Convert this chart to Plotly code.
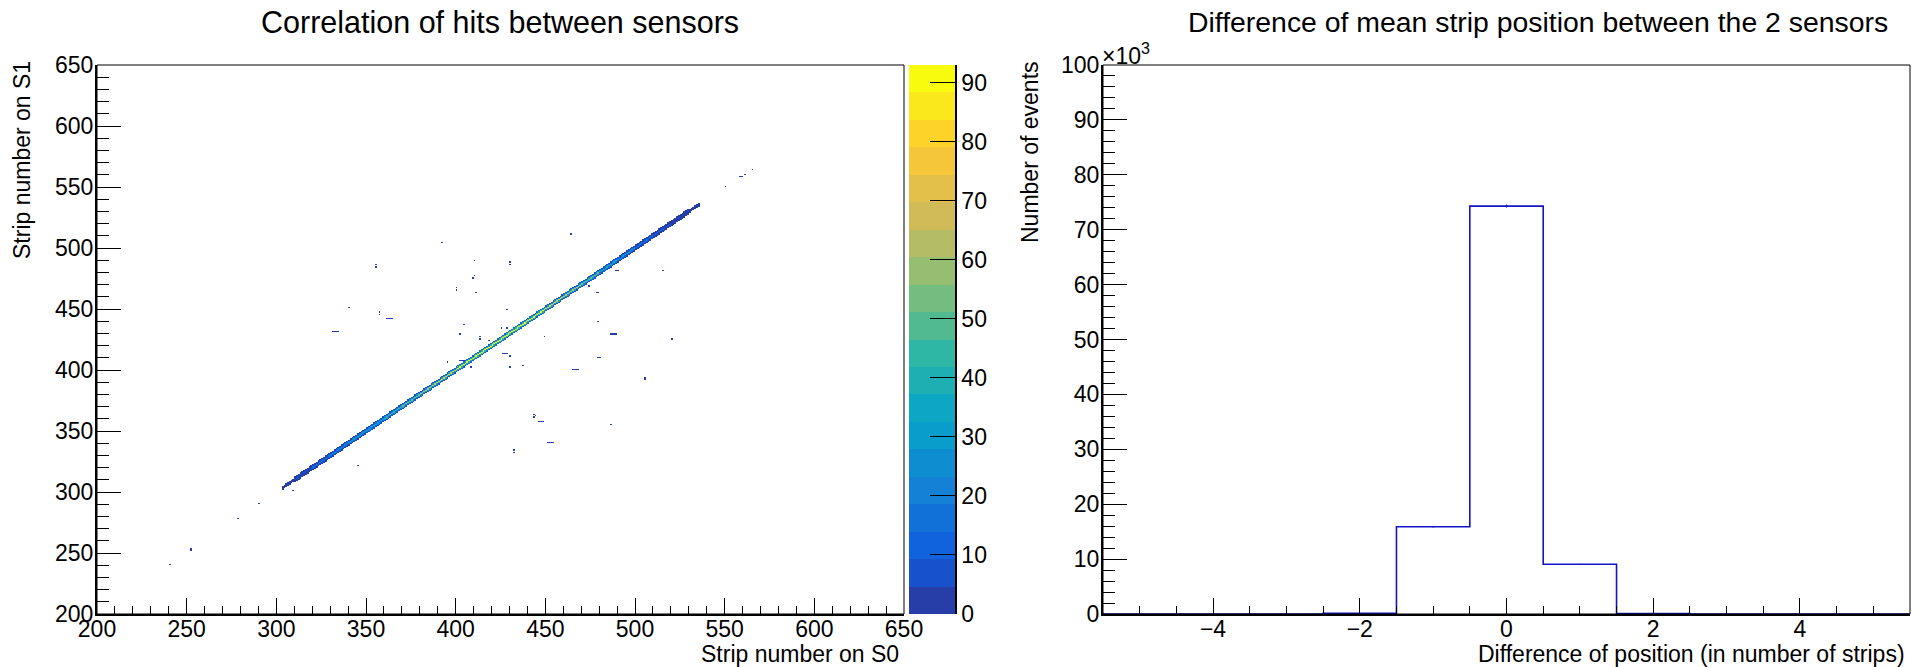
import numpy as np
import plotly.graph_objects as go

W, H = 1923, 667
FONT = "Liberation Sans, Arial, Helvetica, sans-serif"

# ---------------- data: 2D correlation (strip S0 vs strip S1) ----------------
strip_lo, strip_hi = 200, 650
# main diagonal (y = x), per 10-strip segment starting at diag_seg_start
diag_seg_start = [300, 310, 320, 330, 340, 350, 360, 370, 380, 390, 400, 410,
                  420, 430, 440, 450, 460, 470, 480, 490, 500, 510, 520, 530]
diag_center = [3, 8, 15, 22, 28, 34, 42, 55, 68, 78, 86, 90,
               93, 90, 85, 78, 66, 52, 40, 28, 18, 10, 4, 1]
diag_near = [1, 4, 8, 12, 15, 18, 22, 26, 32, 36, 40, 42,
             44, 42, 40, 36, 30, 24, 18, 13, 8, 4, 2, 1]
diag_far = [0, 1, 2, 3, 4, 5, 6, 7, 8, 9, 10, 10,
            10, 10, 10, 9, 8, 7, 5, 4, 2, 1, 1, 0]
diag_first, diag_last = 303, 535

# isolated filled bins (x strip, y strip, entries)
iso_x = [240, 252, 252, 278, 290, 550, 558, 559, 561, 565,
         392, 355, 355, 410, 430, 430, 464, 410, 409, 400, 400, 411, 340,
         357, 357, 361, 362, 363, 364, 331, 332, 333, 334, 428, 404, 402,
         413, 413, 418, 425, 428, 426, 427, 428, 430, 430, 437, 449, 395,
         402, 403, 404, 408, 478, 479, 489, 490, 515, 474, 474, 479, 486,
         487, 488, 489, 520, 479, 480, 465, 466, 467, 468, 505, 505, 443,
         443, 444, 446, 447, 448, 486, 451, 452, 453, 454, 432, 432, 345, 309]
iso_y = [240, 252, 253, 278, 290, 550, 558, 558, 560, 564,
         504, 484, 486, 489, 486, 488, 511, 477, 475, 465, 467, 463, 451,
         445, 447, 442, 442, 442, 442, 431, 431, 431, 431, 449, 437, 429,
         425, 427, 424, 434, 434, 413, 413, 413, 411, 402, 403, 427, 406,
         407, 407, 407, 402, 463, 463, 481, 481, 481, 468, 469, 439, 429,
         429, 429, 429, 425, 410, 410, 400, 400, 400, 400, 392, 393, 361,
         363, 362, 357, 357, 357, 355, 340, 340, 340, 340, 332, 334, 321, 301]
iso_n = [1, 1, 1, 1, 1, 1, 1, 1, 1, 1,
         1, 2, 1, 1, 2, 1, 1, 1, 1, 1, 2, 1, 1,
         1, 2, 1, 2, 2, 1, 1, 2, 2, 1, 1, 1, 1,
         1, 1, 1, 1, 1, 1, 2, 1, 1, 1, 1, 1, 1,
         1, 2, 1, 1, 1, 1, 2, 1, 1, 1, 1, 1, 1,
         2, 2, 1, 1, 1, 1, 1, 2, 2, 1, 2, 2, 2,
         1, 2, 1, 2, 1, 1, 1, 2, 2, 1, 2, 1, 1, 1]

# ---------------- data: 1D difference histogram ----------------
diff_centers = [-5, -4, -3, -2, -1, 0, 1, 2, 3, 4, 5]
diff_counts = [0, 0, 0, 120, 15900, 74300, 9050, 60, 0, 0, 0]

cbar_ticks = [0, 10, 20, 30, 40, 50, 60, 70, 80, 90]
hist_yticks = [0, 10, 20, 30, 40, 50, 60, 70, 80, 90, 100]
zmax = 93.0
ncont = 20

# ---------------- build 2D grid ----------------
n = strip_hi - strip_lo
grid = np.zeros((n, n))
for s in range(diag_first, diag_last + 1):
    k = (s - diag_seg_start[0]) // 10
    for off, arr in ((0, diag_center), (1, diag_near), (-1, diag_near),
                     (2, diag_far), (-2, diag_far)):
        grid[s + off - strip_lo, s - strip_lo] += arr[k]
for xs_, ys_, c in zip(iso_x, iso_y, iso_n):
    grid[ys_ - strip_lo, xs_ - strip_lo] += c
zlist = [[(float(v) if v > 0 else None) for v in row] for row in grid]
centers = [strip_lo + i + 0.5 for i in range(n)]

# ROOT kBird palette, 20 contour levels
stops = [0.0, 0.125, 0.25, 0.375, 0.5, 0.625, 0.75, 0.875, 1.0]
red = [0.2082, 0.0592, 0.0780, 0.0232, 0.1802, 0.5301, 0.8186, 0.9956, 0.9764]
green = [0.1664, 0.3599, 0.5041, 0.6419, 0.7178, 0.7492, 0.7328, 0.7862, 0.9832]
blue = [0.5293, 0.8684, 0.8385, 0.7914, 0.6425, 0.4662, 0.3499, 0.1968, 0.0539]
cs = []
for i in range(ncont):
    idx = int((i + 0.99) * 255 / ncont)
    f = min(idx, 254) / 254.0
    r = np.interp(f, stops, red); g = np.interp(f, stops, green); b = np.interp(f, stops, blue)
    col = "rgb(%d,%d,%d)" % (round(r * 255), round(g * 255), round(b * 255))
    cs.append([i / ncont, col])
    cs.append([(i + 1) / ncont, col])

fig = go.Figure()
fig.add_trace(go.Heatmap(
    x=centers, y=centers, z=zlist, zmin=0, zmax=zmax, colorscale=cs, showscale=False,
    xaxis="x", yaxis="y", hoverongaps=False, zsmooth=False))

# palette bar drawn as its own heatmap (ROOT-style z axis)
band_h = zmax / ncont
band_centers = [(i + 0.5) * band_h for i in range(ncont)]
fig.add_trace(go.Heatmap(
    x=[0], y=band_centers, z=[[v] for v in band_centers], zmin=0, zmax=zmax, colorscale=cs,
    showscale=False, xaxis="x3", yaxis="y3", hoverinfo="skip", zsmooth=False))

# step histogram
xs = [diff_centers[0] - 0.5] + diff_centers + [diff_centers[-1] + 0.5]
ys = [diff_counts[0]] + diff_counts + [diff_counts[-1]]
fig.add_trace(go.Scatter(x=xs, y=ys, mode="lines", line=dict(color="#1414c8", width=1.6, shape="hvh"),
                         xaxis="x2", yaxis="y2", hoverinfo="skip"))
fig.add_trace(go.Scatter(x=diff_centers, y=diff_counts, mode="markers",
                         marker=dict(size=2, color="rgba(0,0,0,0)"),
                         error_y=dict(type="data", array=[float(np.sqrt(v)) for v in diff_counts],
                                      width=0, thickness=1.2, color="#1414c8"),
                         xaxis="x2", yaxis="y2", hoverinfo="skip"))

tickfont = dict(size=23, family=FONT, color="black")
common = dict(showgrid=False, zeroline=False, showline=True, linecolor="black", linewidth=2,
              ticks="inside", tickcolor="black", tickwidth=1, tickfont=tickfont, mirror=False,
              automargin=False)
YDOM = [53 / H, 602 / H]

fig.update_layout(
    width=W, height=H, margin=dict(l=0, r=0, t=0, b=0, autoexpand=False),
    paper_bgcolor="white", plot_bgcolor="white", showlegend=False,
    font=dict(family=FONT, color="black"),
    xaxis=dict(domain=[97 / W, 904 / W], range=[200, 650], anchor="y", tickmode="linear",
               tick0=200, dtick=50, ticklen=16, ticklabelstandoff=-7,
               minor=dict(ticks="inside", ticklen=8, dtick=10, tickcolor="black", tickwidth=1), **common),
    yaxis=dict(domain=YDOM, range=[200, 650], anchor="x", tickmode="linear",
               tick0=200, dtick=50, ticklen=24, ticklabelstandoff=-3,
               minor=dict(ticks="inside", ticklen=12, dtick=10, tickcolor="black", tickwidth=1), **common),
    xaxis2=dict(domain=[1103 / W, 1910 / W], range=[-5.5, 5.5], anchor="y2", tickmode="linear",
                tick0=0, dtick=2, ticklen=16, ticklabelstandoff=-7,
                minor=dict(ticks="inside", ticklen=8, dtick=0.5, tickcolor="black", tickwidth=1), **common),
    yaxis2=dict(domain=YDOM, range=[0, 100000], anchor="x2", tickmode="array",
                tickvals=[v * 1000 for v in hist_yticks], ticktext=[str(v) for v in hist_yticks],
                ticklen=24, ticklabelstandoff=-3,
                minor=dict(ticks="inside", ticklen=12, dtick=2000, tickcolor="black", tickwidth=1), **common),
    xaxis3=dict(domain=[909 / W, 955 / W], range=[-0.5, 0.5], anchor="y3", visible=False,
                fixedrange=True),
    yaxis3=dict(domain=YDOM, range=[0, zmax], anchor="x3", side="right", showgrid=False,
                zeroline=False, showline=True, linecolor="black", linewidth=1.5,
                ticks="inside", ticklen=25, tickcolor="black", tickwidth=1, tickfont=tickfont,
                tickmode="array", tickvals=cbar_ticks, ticktext=[str(v) for v in cbar_ticks],
                automargin=False, fixedrange=True),
)

shapes = [
    dict(type="rect", xref="x domain", yref="y domain", x0=0, x1=1, y0=0, y1=1,
         line=dict(color="black", width=1), layer="above"),
    dict(type="rect", xref="x2 domain", yref="y2 domain", x0=0, x1=1, y0=0, y1=1,
         line=dict(color="black", width=1), layer="above"),
]
fig.update_layout(shapes=shapes)


def px(x):
    return x / W


def py(y):
    return 1 - y / H


ann = [
    dict(text="Correlation of hits between sensors", x=px(500), y=py(22), font=dict(size=30.5)),
    dict(text="Difference of mean strip position between the 2 sensors", x=px(1538), y=py(22),
         font=dict(size=28.4)),
    dict(text="Strip number on S0", x=px(901), y=py(654), xanchor="right", font=dict(size=23)),
    dict(text="Strip number on S1", x=px(22), y=py(59), yanchor="top", textangle=-90, font=dict(size=23)),
    dict(text="Difference of position (in number of strips)", x=px(1907), y=py(654), xanchor="right",
         font=dict(size=23)),
    dict(text="Number of events", x=px(1030), y=py(59), yanchor="top", textangle=-90, font=dict(size=23)),
    dict(text="×10<sup>3</sup>", x=px(1100), y=py(71), xanchor="left", yanchor="bottom", font=dict(size=23)),
]
for a in ann:
    a.setdefault("xanchor", "center")
    a.setdefault("yanchor", "middle")
    a["xref"] = "paper"; a["yref"] = "paper"; a["showarrow"] = False
    a["font"] = dict(family=FONT, color="black", **a["font"])
fig.update_layout(annotations=ann)

fig.write_html("out.html")
